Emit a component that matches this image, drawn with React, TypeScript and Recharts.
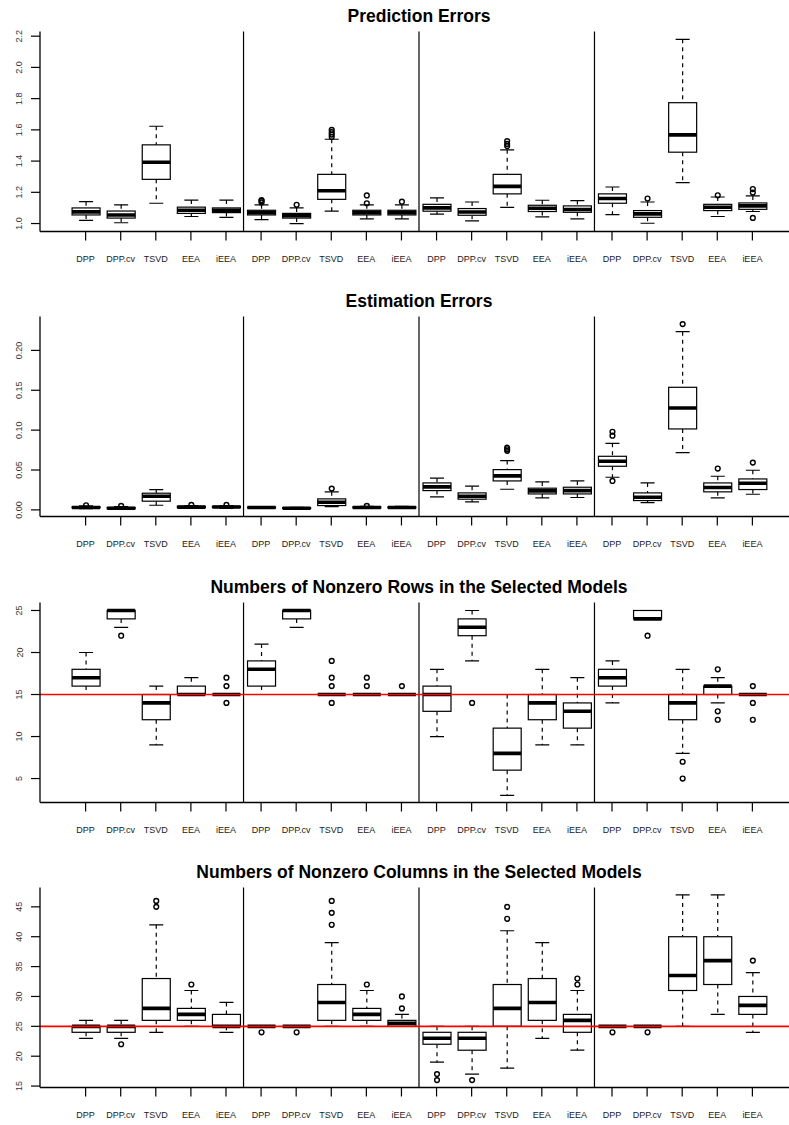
import { ComposedChart, Bar, XAxis, YAxis, ReferenceLine } from "recharts";

const methods = ["DPP", "DPP.cv", "TSVD", "EEA", "iEEA"];
const panelTitles = [
  "Prediction Errors",
  "Estimation Errors",
  "Numbers of Nonzero Rows in the Selected Models",
  "Numbers of Nonzero Columns in the Selected Models",
];

// each row: [lower whisker, Q1, median, Q3, upper whisker]
const predStats = [
  [1.02, 1.055, 1.075, 1.1, 1.14], [1.005, 1.035, 1.055, 1.08, 1.12], [1.13, 1.283, 1.393, 1.504, 1.623], [1.045, 1.065, 1.085, 1.105, 1.15], [1.04, 1.07, 1.085, 1.1, 1.15],
  [1.025, 1.055, 1.07, 1.085, 1.12], [1.0, 1.035, 1.05, 1.065, 1.1], [1.08, 1.155, 1.21, 1.315, 1.54], [1.03, 1.055, 1.07, 1.085, 1.12], [1.03, 1.055, 1.07, 1.085, 1.12],
  [1.06, 1.079, 1.1, 1.123, 1.164], [1.017, 1.053, 1.074, 1.096, 1.138], [1.104, 1.19, 1.238, 1.315, 1.472], [1.043, 1.077, 1.098, 1.117, 1.149], [1.03, 1.072, 1.09, 1.113, 1.147],
  [1.057, 1.13, 1.16, 1.19, 1.234], [1.002, 1.04, 1.062, 1.083, 1.138], [1.262, 1.457, 1.568, 1.774, 2.18], [1.045, 1.083, 1.104, 1.123, 1.17], [1.077, 1.091, 1.113, 1.132, 1.177],
];
const predOutliers = [
  [], [], [], [], [],
  [1.135, 1.145, 1.15], [1.12], [1.555, 1.57, 1.585, 1.6], [1.13, 1.18], [1.14],
  [], [], [1.496, 1.51, 1.528], [], [],
  [], [1.16], [], [1.181], [1.198, 1.221, 1.036],
];

const estStats = [
  [0.0015, 0.0025, 0.003, 0.004, 0.005], [0.001, 0.0015, 0.002, 0.003, 0.0042], [0.0058, 0.0109, 0.0171, 0.0209, 0.0255], [0.002, 0.003, 0.0035, 0.0045, 0.0055], [0.002, 0.003, 0.0037, 0.0045, 0.0055],
  [0.002, 0.0025, 0.003, 0.0035, 0.004], [0.0012, 0.0018, 0.002, 0.0027, 0.0032], [0.0042, 0.0054, 0.0096, 0.0138, 0.0226], [0.0018, 0.0025, 0.003, 0.0037, 0.0045], [0.0018, 0.0025, 0.003, 0.0037, 0.0045],
  [0.0163, 0.0242, 0.0288, 0.0338, 0.0397], [0.01, 0.0134, 0.0171, 0.0213, 0.0297], [0.0259, 0.0363, 0.0426, 0.0505, 0.0618], [0.015, 0.02, 0.0238, 0.0272, 0.0351], [0.0155, 0.02, 0.0242, 0.0284, 0.0363],
  [0.0409, 0.0547, 0.061, 0.0672, 0.0835], [0.0092, 0.0117, 0.0159, 0.0213, 0.0338], [0.0718, 0.1015, 0.1278, 0.1537, 0.2235], [0.015, 0.0226, 0.028, 0.0338, 0.0422], [0.0196, 0.0255, 0.0334, 0.0388, 0.0497],
];
const estOutliers = [
  [0.0058], [0.005], [], [0.0063], [0.0062],
  [], [], [0.0267], [0.005], [],
  [], [], [0.074, 0.076, 0.078], [], [],
  [0.093, 0.098, 0.0363], [], [0.233], [0.0518], [0.0593],
];

const rowStats = [
  [15, 16, 17, 18, 20], [23, 24, 25, 25, 25], [9, 12, 14, 15, 16], [15, 15, 15, 16, 17], [15, 15, 15, 15, 15],
  [15, 16, 18, 19, 21], [23, 24, 25, 25, 25], [15, 15, 15, 15, 15], [15, 15, 15, 15, 15], [15, 15, 15, 15, 15],
  [10, 13, 15, 16, 18], [19, 22, 23, 24, 25], [3, 6, 8, 11, 15], [9, 12, 14, 15, 18], [9, 11, 13, 14, 17],
  [14, 16, 17, 18, 19], [24, 24, 24, 25, 25], [8, 12, 14, 15, 18], [14, 15, 16, 16, 17], [15, 15, 15, 15, 15],
];
const rowOutliers = [
  [], [22], [], [], [17, 16, 14],
  [], [], [19, 17, 16, 14], [17, 16], [16],
  [], [14], [], [], [],
  [], [22], [7, 5], [18, 13, 12], [16, 14, 12],
];

const colStats = [
  [23, 24, 25, 25, 26], [23, 24, 25, 25, 26], [24, 26, 28, 33, 42], [25, 26, 27, 28, 31], [24, 25, 25, 27, 29],
  [25, 25, 25, 25, 25], [25, 25, 25, 25, 25], [25, 26, 29, 32, 39], [25, 26, 27, 28, 31], [25, 25, 25.5, 26, 27],
  [19, 22, 23, 24, 25], [17, 21, 23, 24, 25], [18, 25, 28, 32, 41], [23, 26, 29, 33, 39], [21, 24, 26, 27, 31],
  [25, 25, 25, 25, 25], [25, 25, 25, 25, 25], [25, 31, 33.5, 40, 47], [27, 32, 36, 40, 47], [24, 27, 28.5, 30, 34],
];
const colOutliers = [
  [], [22], [45, 46], [32], [],
  [24], [24], [42, 44, 46], [32], [28, 30],
  [16, 17], [16], [43, 45], [], [32, 33],
  [24], [24], [], [], [36],
];

const predTicks = [1.0, 1.2, 1.4, 1.6, 1.8, 2.0, 2.2];
const estTicks = [0, 0.05, 0.1, 0.15, 0.2];
const rowTicks = [5, 10, 15, 20, 25];
const colTicks = [15, 20, 25, 30, 35, 40, 45];

const predDomain = [0.949, 2.23];
const estDomain = [-0.0083, 0.2425];
const rowDomain = [2.15, 25.95];
const colDomain = [14.76, 48.24];

const rowTarget = 15;
const colTarget = 25;
// last box of each group; the separator sits at the end of its band
const groupEnds = [4, 9, 14];

const FONT = "'Liberation Sans', Arial, Helvetica, sans-serif";
const frame = { stroke: "#000", strokeWidth: 1.3 };

function BoxShape(props: any) {
  const { x, y, width, height, payload } = props;
  const [d0, d1] = payload.range;
  const sy = (v: number) => y + (height * (d1 - v)) / (d1 - d0);
  const [lo, q1, med, q3, hi] = payload.stats;
  const cx = x + width / 2;
  const cap = width / 4;
  return (
    <g>
      <line x1={cx} x2={cx} y1={sy(hi)} y2={sy(q3)} stroke="#000" strokeWidth={1.2} strokeDasharray="4 4" />
      <line x1={cx} x2={cx} y1={sy(q1)} y2={sy(lo)} stroke="#000" strokeWidth={1.2} strokeDasharray="4 4" />
      <line x1={cx - cap} x2={cx + cap} y1={sy(hi)} y2={sy(hi)} stroke="#000" strokeWidth={1.2} />
      <line x1={cx - cap} x2={cx + cap} y1={sy(lo)} y2={sy(lo)} stroke="#000" strokeWidth={1.2} />
      <rect x={x} y={sy(q3)} width={width} height={Math.max(sy(q1) - sy(q3), 0)} fill="#fff" stroke="#000" strokeWidth={1.2} />
      <line x1={x} x2={x + width} y1={sy(med)} y2={sy(med)} stroke="#000" strokeWidth={3.6} />
      {payload.out.map((o: number, i: number) => (
        <circle key={i} cx={cx} cy={sy(o)} r={2.4} fill="none" stroke="#000" strokeWidth={1.4} />
      ))}
    </g>
  );
}

function XTick(props: any) {
  const { x, y, payload } = props;
  return (
    <text x={x} y={y} dy="0.71em" textAnchor="middle" fontSize={9} fill="#222" fontFamily={FONT}>
      {methods[payload.value % 5]}
    </text>
  );
}

function YTick(props: any) {
  const { x, y, payload, digits } = props;
  return (
    <text x={x} y={y} transform={`rotate(-90 ${x} ${y})`} textAnchor="middle" fontSize={9} fill="#333" fontFamily={FONT}>
      {Number(payload.value).toFixed(digits)}
    </text>
  );
}

interface PanelProps {
  title: string;
  stats: number[][];
  outliers: number[][];
  domain: number[];
  ticks: number[];
  digits: number;
  target?: number;
  top: number;
}

function Panel({ title, stats, outliers, domain, ticks, digits, target, top }: PanelProps) {
  const data = stats.map((s, i) => ({ id: i, range: domain, stats: s, out: outliers[i] }));
  return (
    <div style={{ position: "absolute", left: 0, top, width: 810, height: 285 }}>
      <ComposedChart width={810} height={285} data={data} margin={{ top: 31.5, right: 12, bottom: 13.5, left: 0 }}>
        <XAxis
          dataKey="id"
          interval={0}
          padding={{ left: 28.07, right: 28.07 }}
          axisLine={frame}
          tickSize={9}
          tickMargin={15}
          tickLine={{ stroke: "#000", strokeWidth: 1.2 }}
          tick={<XTick />}
          height={40}
        />
        <XAxis
          xAxisId="top"
          dataKey="id"
          orientation="top"
          padding={{ left: 28.07, right: 28.07 }}
          axisLine={frame}
          tick={false}
          tickLine={false}
          height={0}
        />
        <YAxis
          type="number"
          domain={domain}
          allowDataOverflow
          ticks={ticks}
          width={40}
          axisLine={frame}
          tickSize={9}
          tickMargin={8.5}
          tickLine={{ stroke: "#000", strokeWidth: 1.2 }}
          tick={(p: any) => <YTick {...p} digits={digits} />}
        />
        {groupEnds.map((g) => (
          <ReferenceLine key={g} x={g} position="end" stroke="#000" strokeWidth={1.2} ifOverflow="visible" />
        ))}
        <Bar dataKey="range" barSize={28} isAnimationActive={false} shape={(p: any) => <BoxShape {...p} />} />
        {target !== undefined && (
          <ReferenceLine y={target} stroke="#ff0000" strokeWidth={1.6} ifOverflow="visible" />
        )}
      </ComposedChart>
      <svg width={810} height={30} style={{ position: "absolute", left: 0, top: 0 }}>
        <text x={419} y={21.5} textAnchor="middle" fontSize={17.5} fontWeight="bold" fontFamily={FONT} fill="#000">
          {title}
        </text>
      </svg>
    </div>
  );
}

export default function App() {
  return (
    <div style={{ position: "absolute", left: 0, top: 0, width: 789, height: 1125, overflow: "hidden", background: "#fff" }}>
      <Panel title={panelTitles[0]} stats={predStats} outliers={predOutliers} domain={predDomain} ticks={predTicks} digits={1} top={0} />
      <Panel title={panelTitles[1]} stats={estStats} outliers={estOutliers} domain={estDomain} ticks={estTicks} digits={2} top={285.33} />
      <Panel title={panelTitles[2]} stats={rowStats} outliers={rowOutliers} domain={rowDomain} ticks={rowTicks} digits={0} target={rowTarget} top={570.67} />
      <Panel title={panelTitles[3]} stats={colStats} outliers={colOutliers} domain={colDomain} ticks={colTicks} digits={0} target={colTarget} top={856} />
    </div>
  );
}
